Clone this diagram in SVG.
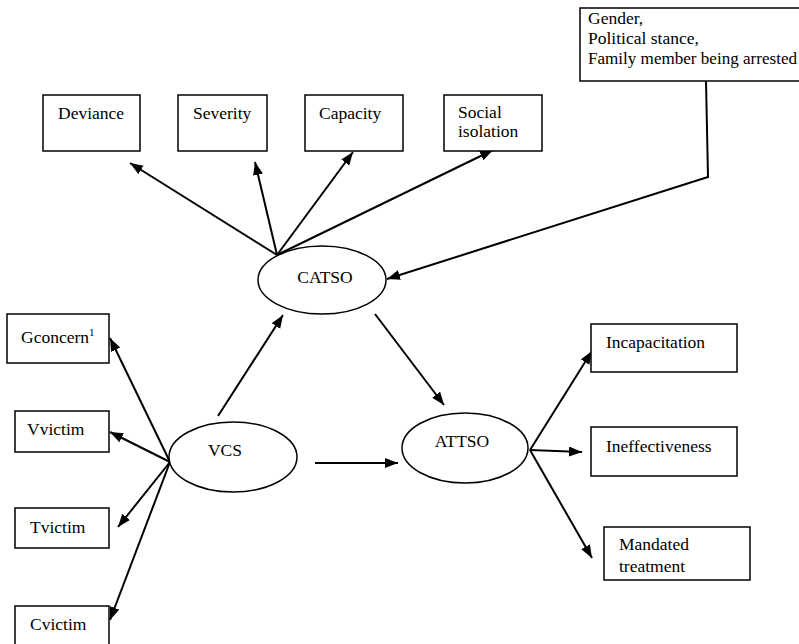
<svg xmlns="http://www.w3.org/2000/svg" width="799" height="644" viewBox="0 0 799 644">
<style>
.box{fill:#fff;stroke:#000;stroke-width:1.5}
.ell{fill:#fff;stroke:#000;stroke-width:1.5}
.t{font-family:"Liberation Serif","Times New Roman",serif;font-size:17.5px;fill:#000}
.c{stroke:#000;stroke-width:2;fill:none}
</style>
<defs>
<marker id="ah" markerUnits="userSpaceOnUse" markerWidth="14" markerHeight="12" refX="13" refY="5" orient="auto">
<path d="M0,0 L13,5 L0,10 Z" fill="#000"/>
</marker>
</defs>
<rect width="799" height="644" fill="#fff"/>
<g id="connectors">
<line class="c" x1="277" y1="255" x2="130" y2="163" marker-end="url(#ah)"/>
<line class="c" x1="277" y1="255" x2="255" y2="162" marker-end="url(#ah)"/>
<line class="c" x1="277" y1="255" x2="353" y2="152" marker-end="url(#ah)"/>
<line class="c" x1="277" y1="255" x2="493" y2="150" marker-end="url(#ah)"/>
<polyline class="c" points="706,81 708,177 387,279" marker-end="url(#ah)"/>
<line class="c" x1="218" y1="416" x2="283" y2="315" marker-end="url(#ah)"/>
<line class="c" x1="375" y1="314" x2="444" y2="405" marker-end="url(#ah)"/>
<line class="c" x1="315" y1="463" x2="398" y2="463" marker-end="url(#ah)"/>
<line class="c" x1="170" y1="462" x2="110" y2="338" marker-end="url(#ah)"/>
<line class="c" x1="170" y1="462" x2="110" y2="432" marker-end="url(#ah)"/>
<line class="c" x1="170" y1="462" x2="118" y2="527" marker-end="url(#ah)"/>
<line class="c" x1="170" y1="462" x2="110" y2="620" marker-end="url(#ah)"/>
<line class="c" x1="530" y1="450" x2="592" y2="351" marker-end="url(#ah)"/>
<line class="c" x1="530" y1="450" x2="582" y2="452" marker-end="url(#ah)"/>
<line class="c" x1="530" y1="450" x2="592" y2="558" marker-end="url(#ah)"/>
</g>
<g id="deviance"><rect class="box" x="43" y="95" width="97" height="56"/><text class="t" x="58" y="119">Deviance</text></g>
<g id="severity"><rect class="box" x="178" y="95" width="89" height="56"/><text class="t" x="193" y="119">Severity</text></g>
<g id="capacity"><rect class="box" x="305" y="95" width="98" height="56"/><text class="t" x="319" y="119">Capacity</text></g>
<g id="social"><rect class="box" x="444" y="95" width="98" height="56"/><text class="t" x="458" y="118">Social</text><text class="t" x="458" y="137">isolation</text></g>
<g id="covariates"><rect class="box" x="580" y="8" width="225" height="73"/><text class="t" x="588" y="24">Gender,</text><text class="t" x="588" y="44">Political stance,</text><text class="t" x="588" y="64" textLength="209" lengthAdjust="spacingAndGlyphs">Family member being arrested</text></g>
<g id="catso"><ellipse class="ell" cx="322" cy="280" rx="64" ry="34"/><text class="t" x="325" y="283" text-anchor="middle">CATSO</text></g>
<g id="vcs"><ellipse class="ell" cx="233" cy="457" rx="64" ry="35"/><text class="t" x="225" y="456" text-anchor="middle">VCS</text></g>
<g id="attso"><ellipse class="ell" cx="465" cy="448" rx="63" ry="35"/><text class="t" x="462" y="447" text-anchor="middle">ATTSO</text></g>
<g id="gconcern"><rect class="box" x="7" y="314" width="102" height="49"/><text class="t" x="21" y="343">Gconcern<tspan font-size="11" dy="-7">1</tspan></text></g>
<g id="vvictim"><rect class="box" x="15" y="411" width="94" height="41"/><text class="t" x="27" y="435">Vvictim</text></g>
<g id="tvictim"><rect class="box" x="15" y="508" width="94" height="40"/><text class="t" x="30" y="533">Tvictim</text></g>
<g id="cvictim"><rect class="box" x="15" y="606" width="94" height="50"/><text class="t" x="30" y="630">Cvictim</text></g>
<g id="incapacitation"><rect class="box" x="591" y="324" width="146" height="48"/><text class="t" x="606" y="348">Incapacitation</text></g>
<g id="ineffectiveness"><rect class="box" x="591" y="427" width="146" height="49"/><text class="t" x="606" y="452">Ineffectiveness</text></g>
<g id="mandated"><rect class="box" x="604" y="527" width="146" height="53"/><text class="t" x="619" y="550">Mandated</text><text class="t" x="619" y="572">treatment</text></g>
</svg>
